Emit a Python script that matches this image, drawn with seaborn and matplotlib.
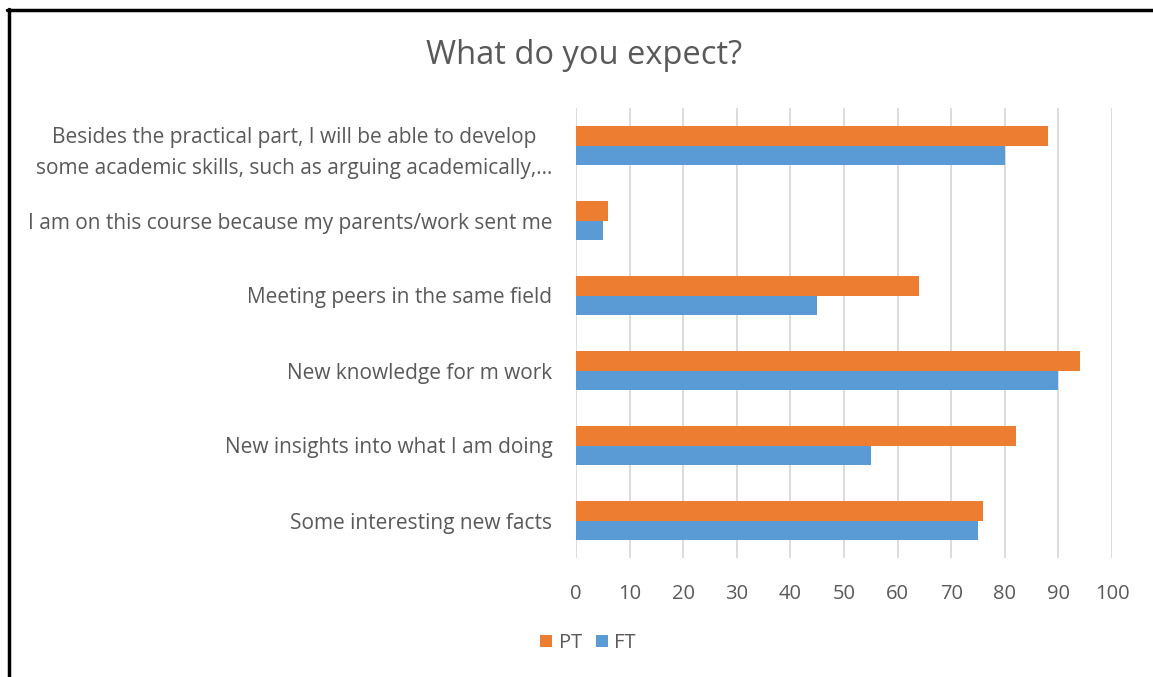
import matplotlib
matplotlib.use("Agg")
import matplotlib.pyplot as plt
from matplotlib.lines import Line2D
from matplotlib.patches import Patch
import seaborn as sns
import pandas as pd

categories = [
    "Besides the practical part, I will be able to develop\nsome academic skills, such as arguing academically,\u2026",
    "I am on this course because my parents/work sent me",
    "Meeting peers in the same field",
    "New knowledge for m work",
    "New insights into what I am doing",
    "Some interesting new facts",
]
pt_values = [88, 6, 64, 94, 82, 76]
ft_values = [80, 5, 45, 90, 55, 75]
series = ["PT", "FT"]
colors = ["#ED7D31", "#5B9BD5"]
x_ticks = list(range(0, 101, 10))
title = "What do you expect?"

df = pd.DataFrame({
    "category": categories * 2,
    "value": pt_values + ft_values,
    "group": ["PT"] * len(categories) + ["FT"] * len(categories),
})

sns.set_theme(style="white")
plt.rcParams["font.family"] = ["Open Sans", "DejaVu Sans"]
text_color = "#595959"

fig = plt.figure(figsize=(11.53, 6.77), dpi=100)
ax = fig.add_axes([576 / 1153, 1 - 558 / 677, (1112 - 576) / 1153, (558 - 108) / 677])

sns.barplot(
    data=df, y="category", x="value", hue="group", order=categories,
    hue_order=series, palette=colors, orient="h", width=0.52,
    saturation=1, ax=ax, legend=False, linewidth=0,
)

ax.set_xlim(0, 100)
ax.set_xticks(x_ticks)
ax.set_xticklabels([str(t) for t in x_ticks])
ax.set_xlabel("")
ax.set_ylabel("")
for s in ax.spines.values():
    s.set_visible(False)
ax.grid(axis="x", color="#D9D9D9", linewidth=1.3)
ax.grid(axis="y", visible=False)
ax.set_axisbelow(True)
ax.tick_params(axis="x", length=0, pad=19, labelsize=14.5, labelcolor=text_color)
ax.tick_params(axis="y", length=0, pad=17, labelsize=15, labelcolor=text_color)
for lbl in ax.get_yticklabels():
    lbl.set_multialignment("center")
    lbl.set_linespacing(1.65)

fig.text(584 / 1153, 1 - 56 / 677, title, ha="center", va="center",
         fontsize=23.5, color=text_color)

handles = [Patch(facecolor=c, edgecolor="none") for c in colors]
fig.legend(handles, series, loc="center", bbox_to_anchor=(588 / 1153, 1 - 643 / 677),
           ncol=2, frameon=False, fontsize=14.5, labelcolor=text_color,
           handlelength=0.6, handleheight=0.6, handletextpad=0.3, columnspacing=0.7)

# Frame edges of the chart area
fig.add_artist(Line2D([8.5 / 1153, 8.5 / 1153], [0, 1 - 9 / 677], color="black", linewidth=2.5,
                      transform=fig.transFigure))
fig.add_artist(Line2D([7 / 1153, 1], [1 - 10 / 677, 1 - 10 / 677], color="black", linewidth=2.5,
                      transform=fig.transFigure))

fig.savefig("out.png", dpi=100, facecolor="white")
